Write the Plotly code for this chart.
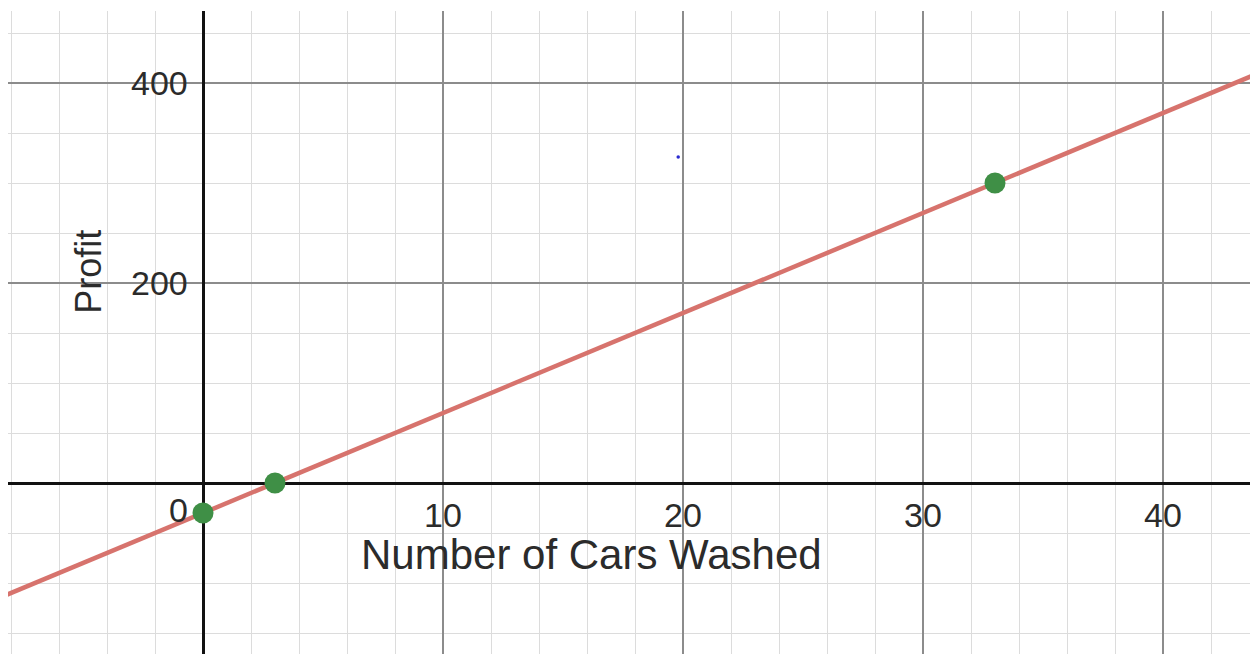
import plotly.graph_objects as go

# ---- data ----
profit_per_car = 10
fixed_cost = 30
line_x = [-8.5, 44.0]
line_y = [profit_per_car * x - fixed_cost for x in line_x]

point_x = [0, 3, 33]
point_y = [-30, 0, 300]

stray_x = [19.8]
stray_y = [326]

x_ticks = [10, 20, 30, 40]
x_tick_labels = ["10", "20", "30", "40"]
y_ticks = [200, 400]
y_tick_labels = ["200", "400"]
origin_label = "0"

x_title = "Number of Cars Washed"
y_title = "Profit"

X_RANGE = [-8.125, 43.625]
Y_RANGE = [-171, 472]

FONT = "Liberation Sans, Arial, sans-serif"
TXT = "#2b2b2b"
FS = 34

fig = go.Figure()

fig.add_trace(go.Scatter(
    x=line_x, y=line_y, mode="lines",
    line=dict(color="#d7736d", width=4.5),
    hoverinfo="skip", showlegend=False))

fig.add_trace(go.Scatter(
    x=point_x, y=point_y, mode="markers",
    marker=dict(color="#3f8f46", size=21, line=dict(width=0)),
    showlegend=False))

fig.add_trace(go.Scatter(
    x=stray_x, y=stray_y, mode="markers",
    marker=dict(color="#2a2ad0", size=3.5),
    showlegend=False))

annotations = []
for xv, lab in zip(x_ticks, x_tick_labels):
    annotations.append(dict(x=xv, y=-32, xref="x", yref="y", text=lab,
                            showarrow=False, xanchor="center", yanchor="middle",
                            font=dict(family=FONT, size=FS, color=TXT)))
for yv, lab in zip(y_ticks, y_tick_labels):
    annotations.append(dict(x=-0.55, y=yv, xref="x", yref="y", text=lab,
                            showarrow=False, xanchor="right", yanchor="middle",
                            font=dict(family=FONT, size=FS, color=TXT)))
annotations.append(dict(x=-0.55, y=-27, xref="x", yref="y", text=origin_label,
                        showarrow=False, xanchor="right", yanchor="middle",
                        font=dict(family=FONT, size=FS, color=TXT)))
annotations.append(dict(x=16.2, y=-71, xref="x", yref="y", text=x_title,
                        showarrow=False, xanchor="center", yanchor="middle",
                        font=dict(family=FONT, size=42, color=TXT)))
annotations.append(dict(x=-4.8, y=211, xref="x", yref="y", text=y_title,
                        showarrow=False, xanchor="center", yanchor="middle",
                        textangle=-90,
                        font=dict(family=FONT, size=36, color=TXT)))

fig.update_layout(
    width=1250, height=654,
    margin=dict(l=8, r=0, t=11, b=0),
    paper_bgcolor="white", plot_bgcolor="white",
    annotations=annotations,
    showlegend=False,
    xaxis=dict(range=X_RANGE, tick0=0, dtick=10, showticklabels=False,
               ticks="", showgrid=True, gridcolor="#8c8c8c", gridwidth=1.5,
               zeroline=True, zerolinecolor="#111111", zerolinewidth=3,
               showline=False, fixedrange=True,
               minor=dict(tick0=0, dtick=2, showgrid=True,
                          gridcolor="#dcdcdc", gridwidth=1.3, ticks="")),
    yaxis=dict(range=Y_RANGE, tick0=0, dtick=200, showticklabels=False,
               ticks="", showgrid=True, gridcolor="#8c8c8c", gridwidth=1.5,
               zeroline=True, zerolinecolor="#111111", zerolinewidth=3,
               showline=False, fixedrange=True,
               minor=dict(tick0=0, dtick=50, showgrid=True,
                          gridcolor="#dcdcdc", gridwidth=1.3, ticks="")),
)

post = ("document.body.style.margin='0';"
        "document.body.style.padding='0';"
        "document.documentElement.style.overflow='hidden';"
        "document.body.style.overflow='hidden';")

fig.write_html("out.html", config={"displayModeBar": False}, post_script=post)
